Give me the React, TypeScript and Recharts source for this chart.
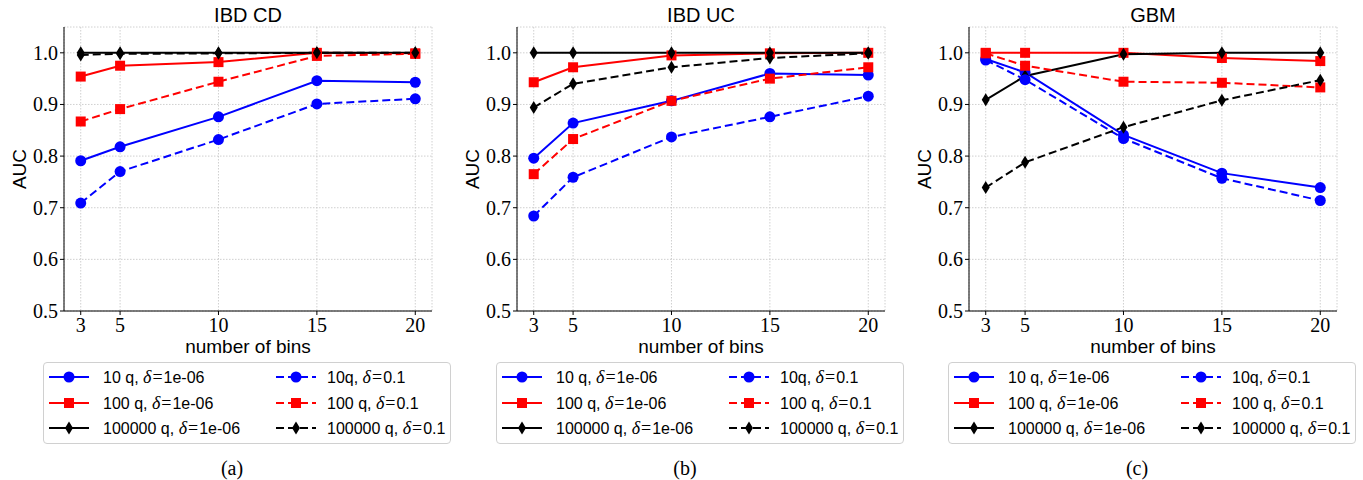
import { LineChart, Line, XAxis, YAxis, CartesianGrid } from "recharts";

const bins = [3, 5, 10, 15, 20];
const yTicks = [0.5, 0.6, 0.7, 0.8, 0.9, 1.0];

// IBD CD
const cdQ10Tight = [0.791, 0.818, 0.876, 0.946, 0.943];
const cdQ100Tight = [0.954, 0.975, 0.982, 1.0, 0.999];
const cdQ1e5Tight = [1.0, 1.0, 1.0, 1.0, 1.0];
const cdQ10Loose = [0.709, 0.77, 0.832, 0.901, 0.911];
const cdQ100Loose = [0.867, 0.891, 0.944, 0.994, 0.998];
const cdQ1e5Loose = [0.996, 0.998, 0.999, 1.0, 1.0];

// IBD UC
const ucQ10Tight = [0.796, 0.864, 0.907, 0.96, 0.957];
const ucQ100Tight = [0.943, 0.972, 0.995, 0.999, 1.0];
const ucQ1e5Tight = [1.0, 1.0, 1.0, 1.0, 1.0];
const ucQ10Loose = [0.684, 0.759, 0.837, 0.876, 0.916];
const ucQ100Loose = [0.765, 0.833, 0.907, 0.95, 0.972];
const ucQ1e5Loose = [0.894, 0.94, 0.972, 0.99, 0.999];

// GBM
const gbmQ10Tight = [0.988, 0.962, 0.841, 0.767, 0.739];
const gbmQ100Tight = [1.0, 1.0, 1.0, 0.99, 0.984];
const gbmQ1e5Tight = [0.909, 0.955, 0.997, 1.0, 1.0];
const gbmQ10Loose = [0.986, 0.948, 0.834, 0.757, 0.714];
const gbmQ100Loose = [0.999, 0.975, 0.944, 0.942, 0.933];
const gbmQ1e5Loose = [0.739, 0.788, 0.856, 0.908, 0.947];

type Shape = "circle" | "square" | "diamond";

const seriesMeta: { key: string; color: string; dashed: boolean; shape: Shape; q: string; delta: string }[] = [
  { key: "q10t", color: "#0000ff", dashed: false, shape: "circle", q: "10 q, ", delta: "1e-06" },
  { key: "q100t", color: "#ff0000", dashed: false, shape: "square", q: "100 q, ", delta: "1e-06" },
  { key: "q1e5t", color: "#000000", dashed: false, shape: "diamond", q: "100000 q, ", delta: "1e-06" },
  { key: "q10l", color: "#0000ff", dashed: true, shape: "circle", q: "10q, ", delta: "0.1" },
  { key: "q100l", color: "#ff0000", dashed: true, shape: "square", q: "100 q, ", delta: "0.1" },
  { key: "q1e5l", color: "#000000", dashed: true, shape: "diamond", q: "100000 q, ", delta: "0.1" },
];

function buildRows(cols: number[][]) {
  return bins.map((b, i) => {
    const row: Record<string, number> = { bins: b };
    seriesMeta.forEach((s, j) => {
      row[s.key] = cols[j][i];
    });
    return row;
  });
}

const panels = [
  {
    title: "IBD CD",
    caption: "(a)",
    plotLeft: 64,
    rows: buildRows([cdQ10Tight, cdQ100Tight, cdQ1e5Tight, cdQ10Loose, cdQ100Loose, cdQ1e5Loose]),
  },
  {
    title: "IBD UC",
    caption: "(b)",
    plotLeft: 517,
    rows: buildRows([ucQ10Tight, ucQ100Tight, ucQ1e5Tight, ucQ10Loose, ucQ100Loose, ucQ1e5Loose]),
  },
  {
    title: "GBM",
    caption: "(c)",
    plotLeft: 969,
    rows: buildRows([gbmQ10Tight, gbmQ100Tight, gbmQ1e5Tight, gbmQ10Loose, gbmQ100Loose, gbmQ1e5Loose]),
  },
];

const SANS = "Liberation Sans";
const SERIF = "Liberation Serif";

function Marker({ cx, cy, shape, color }: { cx: number; cy: number; shape: Shape; color: string }) {
  if (shape === "circle") return <circle cx={cx} cy={cy} r={5.5} fill={color} />;
  if (shape === "square") return <rect x={cx - 5} y={cy - 5} width={10} height={10} fill={color} />;
  return <path d={`M${cx},${cy - 6.5}L${cx + 4},${cy}L${cx},${cy + 6.5}L${cx - 4},${cy}Z`} fill={color} />;
}

const tickStyle = { fontFamily: SERIF, fontSize: 20 };

// serif tick labels, like the LaTeX numbers of the original
const renderXTick = (props: any) => (
  <text key={`x-${props.index}`} x={props.x} y={props.y} dy={14} textAnchor="middle" fill="#000" style={tickStyle}>
    {props.payload.value}
  </text>
);

const renderYTick = (props: any) => (
  <text key={`y-${props.index}`} x={props.x} y={props.y} dy={7} textAnchor="end" fill="#000" style={tickStyle}>
    {Number(props.payload.value).toFixed(1)}
  </text>
);

function LegendBox({ left }: { left: number }) {
  const colX = [5, 232];
  const textX = [59, 283];
  const rowY = [14, 40, 65];
  return (
    <div
      style={{
        position: "absolute",
        left,
        top: 362,
        width: 408,
        height: 82,
        border: "1px solid #d0d0d0",
        borderRadius: 4,
        background: "#fff",
        boxSizing: "border-box",
      }}
    >
      {seriesMeta.map((s, i) => {
        const col = s.dashed ? 1 : 0;
        const row = i % 3;
        return (
          <div key={s.key}>
            <svg
              width={42}
              height={16}
              style={{ position: "absolute", left: colX[col], top: rowY[row] - 8 }}
            >
              <line
                x1={0}
                y1={8}
                x2={40}
                y2={8}
                stroke={s.color}
                strokeWidth={2}
                strokeDasharray={s.dashed ? "8 4" : undefined}
              />
              <Marker cx={20} cy={8} shape={s.shape} color={s.color} />
            </svg>
            <div
              style={{
                position: "absolute",
                left: textX[col],
                top: rowY[row] - 11,
                height: 22,
                lineHeight: "22px",
                fontFamily: SANS,
                fontSize: 16,
                whiteSpace: "nowrap",
                color: "#000",
              }}
            >
              {s.q}
              <span style={{ fontFamily: SERIF, fontStyle: "italic", fontSize: 18 }}>δ</span>
              <span style={{ fontFamily: SERIF, fontSize: 18, margin: "0 1px" }}>=</span>
              {s.delta}
            </div>
          </div>
        );
      })}
    </div>
  );
}

function Panel({ p }: { p: (typeof panels)[number] }) {
  const chartLeft = p.plotLeft - 64;
  const mid = p.plotLeft + 184;
  return (
    <>
      <div style={{ position: "absolute", left: chartLeft, top: 0 }}>
        <LineChart width={450} height={341} data={p.rows} margin={{ top: 27, right: 18, bottom: 0, left: 0 }}>
          <CartesianGrid stroke="#c4c4c4" strokeDasharray="1.5 1.5" strokeWidth={0.8} />
          <XAxis
            dataKey="bins"
            type="number"
            domain={[2.15, 20.85]}
            ticks={bins}
            interval={0}
            allowDataOverflow
            height={30}
            tickSize={4}
            tickMargin={3}
            axisLine={{ stroke: "#000" }}
            tickLine={{ stroke: "#000" }}
            tick={renderXTick}
          />
          <XAxis
            xAxisId="top"
            orientation="top"
            dataKey="bins"
            type="number"
            domain={[2.15, 20.85]}
            allowDataOverflow
            height={0}
            tick={false}
            tickLine={false}
            axisLine={{ stroke: "#000" }}
          />
          <YAxis
            type="number"
            domain={[0.5, 1.05]}
            ticks={yTicks}
            interval={0}
            allowDataOverflow
            width={64}
            tickSize={4}
            tickMargin={2}
            axisLine={{ stroke: "#000" }}
            tickLine={{ stroke: "#000" }}
            tick={renderYTick}
          />
          <YAxis
            yAxisId="right"
            orientation="right"
            type="number"
            domain={[0.5, 1.05]}
            allowDataOverflow
            width={0}
            tick={false}
            tickLine={false}
            axisLine={{ stroke: "#000" }}
          />
          {seriesMeta.map((s) => (
            <Line
              key={s.key}
              type="linear"
              dataKey={s.key}
              stroke={s.color}
              strokeWidth={2}
              strokeDasharray={s.dashed ? "8 4" : undefined}
              dot={(d: any) => (
                <Marker key={`${s.key}-${d.index}`} cx={d.cx} cy={d.cy} shape={s.shape} color={s.color} />
              )}
              activeDot={false}
              isAnimationActive={false}
            />
          ))}
        </LineChart>
      </div>
      <div
        style={{
          position: "absolute",
          left: mid - 100,
          width: 200,
          top: 3,
          textAlign: "center",
          fontFamily: SANS,
          fontSize: 20,
          lineHeight: "24px",
        }}
      >
        {p.title}
      </div>
      <div
        style={{
          position: "absolute",
          left: p.plotLeft - 44 - 30,
          top: 169 - 12,
          width: 60,
          height: 24,
          lineHeight: "24px",
          textAlign: "center",
          fontFamily: SANS,
          fontSize: 19,
          transform: "rotate(-90deg)",
        }}
      >
        AUC
      </div>
      <div
        style={{
          position: "absolute",
          left: mid - 100,
          width: 200,
          top: 335,
          textAlign: "center",
          fontFamily: SANS,
          fontSize: 19,
          lineHeight: "24px",
        }}
      >
        number of bins
      </div>
      <LegendBox left={p.plotLeft - 21} />
      <div
        style={{
          position: "absolute",
          left: p.plotLeft + 168 - 30,
          width: 60,
          top: 456,
          textAlign: "center",
          fontFamily: SERIF,
          fontSize: 20,
          lineHeight: "24px",
        }}
      >
        {p.caption}
      </div>
    </>
  );
}

export default function App() {
  return (
    <div
      style={{
        position: "absolute",
        left: 0,
        top: 0,
        width: 1363,
        height: 480,
        background: "#fff",
        color: "#000",
        overflow: "hidden",
      }}
    >
      {panels.map((p) => (
        <Panel key={p.title} p={p} />
      ))}
    </div>
  );
}
